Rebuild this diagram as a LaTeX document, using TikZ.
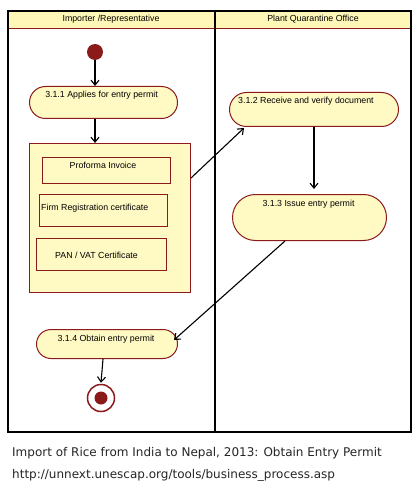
\documentclass[tikz,border=0pt]{standalone}
\usepackage{fontspec}
\setmainfont{Liberation Sans}
\newfontfamily\capfont{DejaVu Sans}
\usetikzlibrary{arrows.meta,calc}
\definecolor{dred}{HTML}{8B1A1A}
\definecolor{lyel}{HTML}{FFFAC4}
\definecolor{hyel}{HTML}{FFF7B8}
\tikzset{
  act/.style={draw=dred, fill=lyel, line width=1pt, inner sep=0pt},
  docbox/.style={draw=dred, fill=lyel, line width=1pt, inner sep=0pt, anchor=north west},
  txt/.style={font=\fontsize{8.8}{10}\selectfont, inner sep=0pt},
  arr/.style={line width=1.1pt, -{Straight Barb[length=5pt,width=8pt,line width=1.1pt]}},
  lane/.style={line width=1.6pt, black},
  captxt/.style={font=\capfont\fontsize{12}{14}\selectfont, inner sep=0pt, anchor=base west, text=black!85}
}
\begin{document}
\begin{tikzpicture}[x=1pt,y=-1pt]
\useasboundingbox (0,0) rectangle (418,489);
\fill[white] (0,0) rectangle (418,489);
% header
\fill[hyel] (8,11) rectangle (411,28);
\draw[dred, line width=0.8pt] (8,28) -- (411,28);
\draw[lane] (8,11) rectangle (411,432);
\draw[lane] (215,11) -- (215,432);
\node[txt, anchor=base] (h1) at (111,22) {Importer /Representative};
\node[txt, anchor=base] (h2) at (313,22) {Plant Quarantine Office};
% start
\node[circle, fill=dred, minimum size=16pt, inner sep=0pt] (s) at (95,52) {};
% activities
\node[act, rounded corners=16pt, minimum width=148pt, minimum height=32pt, anchor=north west] (a1) at (29,86) {};
\node[txt, anchor=base] (t1) at (101.5,98) {3.1.1 Applies for entry permit};
\node[act, rounded corners=17pt, minimum width=169pt, minimum height=34pt, anchor=north west] (r2) at (229,92) {};
\node[txt, anchor=base west] (t2) at (238,104) {3.1.2 Receive and verify document};
\node[act, rounded corners=23pt, minimum width=154pt, minimum height=46pt, anchor=north west] (r3) at (232,194) {};
\node[txt, anchor=base] (t3) at (308.5,206) {3.1.3 Issue entry permit};
\node[act, rounded corners=14.5pt, minimum width=141pt, minimum height=29pt, anchor=north west] (r4) at (36,329) {};
\node[txt, anchor=base] (t4) at (106,341) {3.1.4 Obtain entry permit};
% documents
\node[docbox, minimum width=161pt, minimum height=149pt] (docs) at (29,143) {};
\node[docbox, minimum width=128pt, minimum height=26pt] (d1) at (42,157) {};
\node[txt, anchor=base] (dt1) at (103,168) {Proforma Invoice};
\node[docbox, minimum width=128pt, minimum height=32pt] (d2) at (39,194) {};
\node[txt, anchor=base west] (dt2) at (41,210) {Firm Registration certificate};
\node[docbox, minimum width=130pt, minimum height=32pt] (d3) at (36,238) {};
\node[txt, anchor=base] (dt3) at (96.5,258) {PAN / VAT Certificate};
% end
\node[circle, draw=dred, fill=white, line width=1.5pt, minimum size=27pt, inner sep=0pt] (e) at (101,398) {};
\node[circle, fill=dred, minimum size=13pt, inner sep=0pt] (ei) at (e.center) {};
% connectors
\draw[arr] (s) -- (s |- a1.north);
\draw[arr] (a1.south -| s) -- (docs.north -| s);
\draw[arr] ($(docs.north east)+(0,35)$) -- ($(r2.south west)+(15,1)$);
\draw[arr] (r2.south) -- ($(r2.south |- r3.north)+(0,-5)$);
\draw[arr] ($(r3.south west)+(53,0)$) -- ($(r4.east)+(-4,-4)$);
\draw[arr] ($(r4.south)+(-4,0)$) -- ($(e.north)+(0,-1)$);
% caption
\node[captxt] (c1) at (12,456) {Import of Rice from India to Nepal, 2013: Obtain Entry Permit};
\node[captxt] (c2) at (12,478) {http://unnext.unescap.org/tools/business\_process.asp};
\end{tikzpicture}
\end{document}
